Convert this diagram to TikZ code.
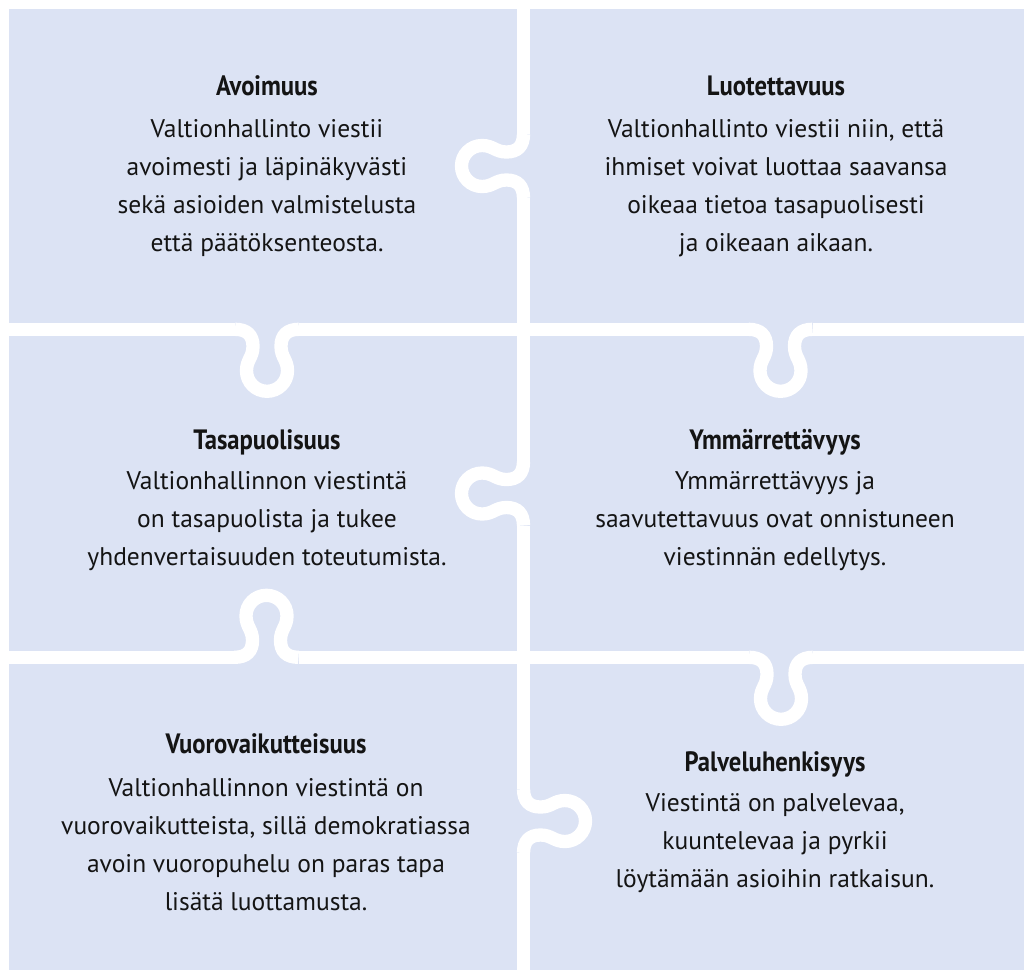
\documentclass[tikz,border=0pt]{standalone}
\usepackage{fontspec}
\setmainfont{PT Sans}
\newfontfamily\headfont[FakeStretch=0.88]{PT Sans}
\usetikzlibrary{positioning}
\definecolor{pieceblue}{RGB}{220,227,244}
\definecolor{inkgrey}{RGB}{20,20,20}
\tikzset{
    cut/.style={draw=white, line width=13.3pt},
    knob/.pic={\draw[cut] (-32,0) .. controls (-20,0) and (-14,6) .. (-14,17) .. controls (-14,28) and (-20.5,30.5) .. (-20.5,41.5) .. controls (-20.5,52.8) and (-11.3,62) .. (0,62) .. controls (11.3,62) and (20.5,52.8) .. (20.5,41.5) .. controls (20.5,30.5) and (14,28) .. (14,17) .. controls (14,6) and (20,0) .. (32,0);},
    headstyle/.style={anchor=base, font=\headfont\bfseries\fontsize{28}{32}\selectfont, text=inkgrey, inner sep=0pt},
    bodystyle/.style={anchor=north, align=center, font=\fontsize{25.5}{38}\selectfont, text=inkgrey, inner sep=0pt}
}

\begin{document}
\begin{tikzpicture}[x=1pt, y=-1pt]
        \useasboundingbox (0,0) rectangle (1024,970);
        % Background
        \fill[pieceblue] (9,9) rectangle (1024,970);

        % Cuts between the pieces
        \draw[cut] (523.5,9) -- (523.5,134);
        \draw[cut] (523.5,198) -- (523.5,461.5);
        \draw[cut] (523.5,525.5) -- (523.5,789);
        \draw[cut] (523.5,853) -- (523.5,970);
        \draw[cut] (9,329.3) -- (235,329.3);
        \draw[cut] (299,329.3) -- (748.5,329.3);
        \draw[cut] (812.5,329.3) -- (1024,329.3);
        \draw[cut] (9,657.3) -- (234.5,657.3);
        \draw[cut] (298.5,657.3) -- (749,657.3);
        \draw[cut] (813,657.3) -- (1024,657.3);

        % Knobs
        \pic[rotate=-90] at (523.5,166) {knob};
        \pic[rotate=-90] at (523.5,493.5) {knob};
        \pic[rotate=90] at (523.5,821) {knob};
        \pic at (267,329.3) {knob};
        \pic at (780.5,329.3) {knob};
        \pic[rotate=180] at (266.5,657.3) {knob};
        \pic at (781,657.3) {knob};

        % Top row
        \node[headstyle] (avoTitle) at (267,95) {Avoimuus};
        \node[bodystyle] (avoText) at (267,119) {Valtionhallinto viestii\\avoimesti ja läpinäkyvästi\\sekä asioiden valmistelusta\\että päätöksenteosta.};
        \node[headstyle] (luoTitle) at (776,95) {Luotettavuus};
        \node[bodystyle] (luoText) at (776,119) {Valtionhallinto viestii niin, että\\ihmiset voivat luottaa saavansa\\oikeaa tietoa tasapuolisesti\\ja oikeaan aikaan.};

        % Middle row
        \node[headstyle] (tasTitle) at (267,449) {Tasapuolisuus};
        \node[bodystyle] (tasText) at (267,471) {Valtionhallinnon viestintä\\on tasapuolista ja tukee\\yhdenvertaisuuden toteutumista.};
        \node[headstyle] (ymmTitle) at (775,449) {Ymmärrettävyys};
        \node[bodystyle] (ymmText) at (775,471) {Ymmärrettävyys ja\\saavutettavuus ovat onnistuneen\\viestinnän edellytys.};

        % Bottom row
        \node[headstyle] (vuoTitle) at (266,753) {Vuorovaikutteisuus};
        \node[bodystyle] (vuoText) at (266,778) {Valtionhallinnon viestintä on\\vuorovaikutteista, sillä demokratiassa\\avoin vuoropuhelu on paras tapa\\lisätä luottamusta.};
        \node[headstyle] (palTitle) at (775,771) {Palveluhenkisyys};
        \node[bodystyle] (palText) at (775,793) {Viestintä on palvelevaa,\\kuuntelevaa ja pyrkii\\löytämään asioihin ratkaisun.};
\end{tikzpicture}
\end{document}
